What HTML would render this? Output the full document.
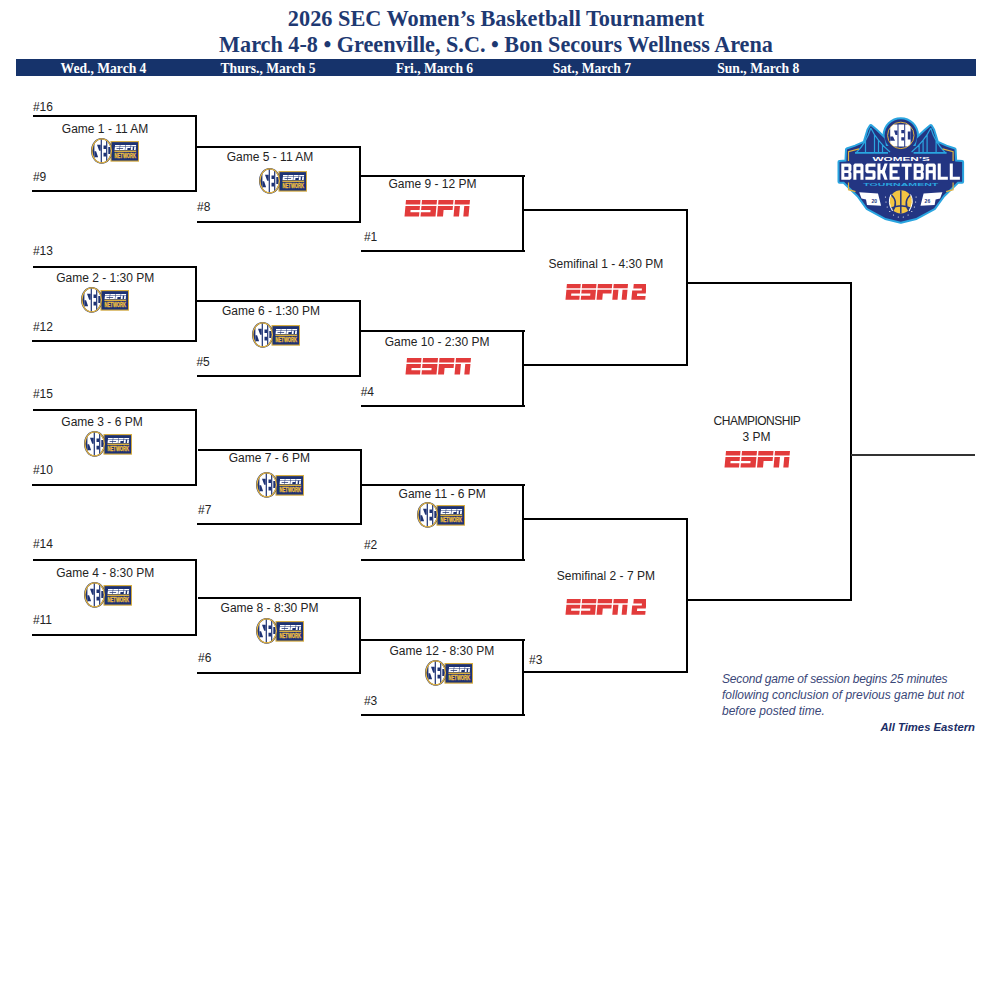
<!DOCTYPE html>
<html><head><meta charset="utf-8">
<style>
html,body{margin:0;padding:0;background:#fff;}
body{width:1008px;height:1007px;position:relative;overflow:hidden;}
.t{position:absolute;font-family:"Liberation Sans",sans-serif;font-size:12px;line-height:12px;color:#232323;white-space:nowrap;}
.c{width:300px;text-align:center;}
.ttl{position:absolute;left:0;width:992px;text-align:center;font-family:"Liberation Serif",serif;font-weight:bold;color:#1e3972;white-space:nowrap;}
.band{position:absolute;left:16px;top:59px;width:960px;height:17px;background:#16336b;}
.day{position:absolute;width:200px;text-align:center;font-family:"Liberation Serif",serif;font-weight:bold;font-size:13.6px;line-height:13.6px;color:#fff;white-space:nowrap;}
.lg{position:absolute;overflow:visible;}
.note{position:absolute;font-family:"Liberation Sans",sans-serif;font-style:italic;font-size:12px;line-height:12px;color:#3a4778;white-space:nowrap;}
</style></head><body>
<svg width="0" height="0" style="position:absolute"><defs>
<clipPath id="lgsecclip"><circle cx="70.8" cy="23.4" r="12.9"/></clipPath>
<clipPath id="secclip"><ellipse cx="10.7" cy="12.85" rx="9.2" ry="11.4"/></clipPath>
<g id="espnpath"><path transform="translate(1.5,0) skewX(-5.2)" d="M0.5 0H15V4.4H0.5Z M0.5 5.9H15V10H6V12.2H15V16.5H0.5Z
             M16.5 0H31.5V4.4H16.5Z M16.5 5.9H31.5V16.5H16.5V12.2H26V10H16.5Z
             M33 0H48V4.4H33Z M33 5.9H48V10H39V16.5H33Z
             M49.5 0H64.5V4.4H49.5Z M49.5 5.9H55V16.5H49.5Z M59.3 5.9H64.5V16.5H59.3Z"/></g>
<symbol id="secn" viewBox="0 0 48 26">
  <rect x="20" y="3.6" width="27.6" height="19.5" fill="#1d3274" stroke="#d9ad3c" stroke-width="1.1"/>
  <g transform="translate(23.4,7) scale(0.33,0.31)"><use href="#espnpath" fill="#fff"/></g>
  <rect x="23.4" y="12.6" width="21.8" height="1.3" fill="#f0bf3f"/>
  <text x="34.3" y="20.2" fill="#f0bf3f" stroke="#f0bf3f" stroke-width="0.35" font-family="Liberation Sans" font-weight="bold" font-size="6.6" text-anchor="middle" textLength="21.4" lengthAdjust="spacingAndGlyphs">NETWORK</text>
  <ellipse cx="10.7" cy="12.85" rx="10.7" ry="12.85" fill="#1d3274"/>
  <g clip-path="url(#secclip)">
    <path fill="#fff" d="M3.4 1H9.7V25H3.4Z M10.9 1H15.1V25H10.9Z M16.3 1H21V25H16.3Z"/>
    <path fill="#1d3274" d="M6 6.8H9.7V12.8H8.2Z M3.4 13.2H5.1L7.1 19.2H3.4Z M12.5 7.4h2.6v3.6h-2.6Z M12.5 14.8h2.6v3.7h-2.6Z M17.3 9h3.7v7h-3.7Z"/>
  </g>
  <ellipse cx="10.7" cy="12.85" rx="9.75" ry="12" fill="none" stroke="#e6b53c" stroke-width="1.2"/>
</symbol>

<symbol id="espn" viewBox="0 0 66 17">
  <g transform="translate(1.5,0) skewX(-5.2)" fill="#e23b3b">
    <path d="M0.5 0H15V4.4H0.5Z M0.5 5.9H15V10H6V12.2H15V16.5H0.5Z
             M16.5 0H31.5V4.4H16.5Z M16.5 5.9H31.5V16.5H16.5V12.2H26V10H16.5Z
             M33 0H48V4.4H33Z M33 5.9H48V10H39V16.5H33Z
             M49.5 0H64.5V4.4H49.5Z M49.5 5.9H55V16.5H49.5Z M59.3 5.9H64.5V16.5H59.3Z"/>
  </g>
</symbol>
<symbol id="espn2" viewBox="0 0 81 16">
  <g transform="translate(0,0) scale(0.955,0.96)">
    <g transform="translate(1.5,0) skewX(-5.2)" fill="#e23b3b">
    <path d="M0.5 0H15V4.4H0.5Z M0.5 5.9H15V10H6V12.2H15V16.5H0.5Z
             M16.5 0H31.5V4.4H16.5Z M16.5 5.9H31.5V16.5H16.5V12.2H26V10H16.5Z
             M33 0H48V4.4H33Z M33 5.9H48V10H39V16.5H33Z
             M49.5 0H64.5V4.4H49.5Z M49.5 5.9H55V16.5H49.5Z M59.3 5.9H64.5V16.5H59.3Z
             M70.5 0H84V10H75V12.4H84V16.5H69.5V6.9H79.5V4.8H70.5Z"/>
    </g>
  </g>
</symbol>
</defs>
</svg>
<div class="ttl" style="top:8.22px;font-size:22.3px;line-height:22.3px;">2026 SEC Women’s Basketball Tournament</div>
<div class="ttl" style="top:34.11px;font-size:22.2px;line-height:22.2px;">March 4-8 • Greenville, S.C. • Bon Secours Wellness Arena</div>
<div class="band"></div>
<div class="day" style="left:3.5px;top:61.61px">Wed., March 4</div>
<div class="day" style="left:168px;top:61.61px">Thurs., March 5</div>
<div class="day" style="left:334.4px;top:61.61px">Fri., March 6</div>
<div class="day" style="left:491.79999999999995px;top:61.61px">Sat., March 7</div>
<div class="day" style="left:658.3px;top:61.61px">Sun., March 8</div>
<svg style="position:absolute;left:0;top:0" width="1008" height="1007" shape-rendering="crispEdges">
<rect x="33" y="115" width="164" height="2" fill="#000"/>
<rect x="32" y="190" width="165" height="2" fill="#000"/>
<rect x="195" y="115" width="2" height="77" fill="#000"/>
<rect x="33" y="266" width="164" height="2" fill="#000"/>
<rect x="32" y="340" width="165" height="2" fill="#000"/>
<rect x="195" y="266" width="2" height="76" fill="#000"/>
<rect x="33" y="409" width="164" height="2" fill="#000"/>
<rect x="32" y="484" width="165" height="2" fill="#000"/>
<rect x="195" y="409" width="2" height="77" fill="#000"/>
<rect x="33" y="559" width="164" height="2" fill="#000"/>
<rect x="32" y="634" width="165" height="2" fill="#000"/>
<rect x="195" y="559" width="2" height="77" fill="#000"/>
<rect x="197" y="146" width="164" height="2" fill="#000"/>
<rect x="197" y="221" width="164" height="2" fill="#000"/>
<rect x="359" y="146" width="2" height="77" fill="#000"/>
<rect x="197" y="300" width="164" height="2" fill="#000"/>
<rect x="197" y="375" width="164" height="2" fill="#000"/>
<rect x="359" y="300" width="2" height="77" fill="#000"/>
<rect x="198" y="449" width="163" height="2" fill="#000"/>
<rect x="197" y="523" width="164" height="2" fill="#000"/>
<rect x="360" y="449" width="2" height="76" fill="#000"/>
<rect x="198" y="597" width="163" height="2" fill="#000"/>
<rect x="197" y="672" width="164" height="2" fill="#000"/>
<rect x="359" y="597" width="2" height="77" fill="#000"/>
<rect x="361" y="175" width="164" height="2" fill="#000"/>
<rect x="361" y="250" width="164" height="2" fill="#000"/>
<rect x="522" y="175" width="2" height="77" fill="#000"/>
<rect x="361" y="330" width="164" height="2" fill="#000"/>
<rect x="361" y="405" width="164" height="2" fill="#000"/>
<rect x="522" y="330" width="2" height="77" fill="#000"/>
<rect x="361" y="484" width="164" height="2" fill="#000"/>
<rect x="361" y="559" width="164" height="2" fill="#000"/>
<rect x="522" y="484" width="2" height="77" fill="#000"/>
<rect x="361" y="639" width="164" height="2" fill="#000"/>
<rect x="361" y="714" width="164" height="2" fill="#000"/>
<rect x="522" y="639" width="2" height="77" fill="#000"/>
<rect x="523" y="209" width="165" height="2" fill="#000"/>
<rect x="523" y="364" width="165" height="2" fill="#000"/>
<rect x="686" y="209" width="2" height="157" fill="#000"/>
<rect x="523" y="518" width="165" height="2" fill="#000"/>
<rect x="523" y="671" width="165" height="2" fill="#000"/>
<rect x="686" y="518" width="2" height="155" fill="#000"/>
<rect x="687" y="282" width="165" height="2" fill="#000"/>
<rect x="687" y="599" width="165" height="2" fill="#000"/>
<rect x="850" y="282" width="2" height="319" fill="#000"/>
<rect x="851" y="454" width="124" height="1.6" fill="#333"/>
</svg>
<div class="t" style="left:32.90px;top:101.04px;">#16</div>
<div class="t" style="left:32.90px;top:170.84px;">#9</div>
<div class="t" style="left:32.90px;top:244.94px;">#13</div>
<div class="t" style="left:32.90px;top:320.64px;">#12</div>
<div class="t" style="left:32.90px;top:387.74px;">#15</div>
<div class="t" style="left:32.90px;top:463.74px;">#10</div>
<div class="t" style="left:32.90px;top:537.74px;">#14</div>
<div class="t" style="left:32.90px;top:613.74px;">#11</div>
<div class="t" style="left:197.10px;top:200.84px;">#8</div>
<div class="t" style="left:196.40px;top:355.84px;">#5</div>
<div class="t" style="left:198.10px;top:503.74px;">#7</div>
<div class="t" style="left:198.10px;top:651.74px;">#6</div>
<div class="t" style="left:363.90px;top:230.94px;">#1</div>
<div class="t" style="left:360.70px;top:385.64px;">#4</div>
<div class="t" style="left:363.90px;top:538.84px;">#2</div>
<div class="t" style="left:363.90px;top:694.84px;">#3</div>
<div class="t" style="left:529.00px;top:653.74px;">#3</div>
<div class="t c" style="left:-44.90px;top:122.54px;">Game 1 - 11 AM</div>
<div class="t c" style="left:-44.80px;top:271.74px;">Game 2 - 1:30 PM</div>
<div class="t c" style="left:-48.00px;top:416.44px;">Game 3 - 6 PM</div>
<div class="t c" style="left:-44.80px;top:566.64px;">Game 4 - 8:30 PM</div>
<div class="t c" style="left:120.00px;top:150.64px;">Game 5 - 11 AM</div>
<div class="t c" style="left:121.00px;top:304.94px;">Game 6 - 1:30 PM</div>
<div class="t c" style="left:119.40px;top:451.64px;">Game 7 - 6 PM</div>
<div class="t c" style="left:119.60px;top:601.64px;">Game 8 - 8:30 PM</div>
<div class="t c" style="left:282.40px;top:177.74px;">Game 9 - 12 PM</div>
<div class="t c" style="left:287.10px;top:335.64px;">Game 10 - 2:30 PM</div>
<div class="t c" style="left:292.20px;top:487.74px;">Game 11 - 6 PM</div>
<div class="t c" style="left:291.90px;top:644.74px;">Game 12 - 8:30 PM</div>
<div class="t c" style="left:455.90px;top:257.74px;">Semifinal 1 - 4:30 PM</div>
<div class="t c" style="left:455.90px;top:569.64px;">Semifinal 2 - 7 PM</div>
<div class="t c" style="left:606.90px;top:415.44px;letter-spacing:-0.5px;">CHAMPIONSHIP</div>
<div class="t c" style="left:606.50px;top:430.54px;">3 PM</div>
<svg class="lg" style="left:90.8px;top:138.3px" width="48" height="26" viewBox="0 0 48 26"><use href="#secn"/></svg>
<svg class="lg" style="left:80.5px;top:286.8px" width="48" height="26" viewBox="0 0 48 26"><use href="#secn"/></svg>
<svg class="lg" style="left:84.2px;top:431.1px" width="48" height="26" viewBox="0 0 48 26"><use href="#secn"/></svg>
<svg class="lg" style="left:84.2px;top:582.3px" width="48" height="26" viewBox="0 0 48 26"><use href="#secn"/></svg>
<svg class="lg" style="left:258.8px;top:168.3px" width="48" height="26" viewBox="0 0 48 26"><use href="#secn"/></svg>
<svg class="lg" style="left:252.4px;top:322.1px" width="48" height="26" viewBox="0 0 48 26"><use href="#secn"/></svg>
<svg class="lg" style="left:256.3px;top:472.2px" width="48" height="26" viewBox="0 0 48 26"><use href="#secn"/></svg>
<svg class="lg" style="left:256.3px;top:618.1px" width="48" height="26" viewBox="0 0 48 26"><use href="#secn"/></svg>
<svg class="lg" style="left:417.3px;top:502.3px" width="48" height="26" viewBox="0 0 48 26"><use href="#secn"/></svg>
<svg class="lg" style="left:424.8px;top:660.4px" width="48" height="26" viewBox="0 0 48 26"><use href="#secn"/></svg>
<svg class="lg" style="left:403.9px;top:199.8px" width="66" height="17" viewBox="0 0 66 17"><use href="#espn"/></svg>
<svg class="lg" style="left:405.3px;top:358.0px" width="66" height="17" viewBox="0 0 66 17"><use href="#espn"/></svg>
<svg class="lg" style="left:723.8px;top:450.8px" width="66" height="17" viewBox="0 0 66 17"><use href="#espn"/></svg>
<svg class="lg" style="left:565.0px;top:283.9px" width="81" height="16" viewBox="0 0 81 16"><use href="#espn2"/></svg>
<svg class="lg" style="left:565.3px;top:599.0px" width="81" height="16" viewBox="0 0 81 16"><use href="#espn2"/></svg>
<svg style="position:absolute;left:830px;top:112px" width="140" height="118" viewBox="0 0 140 118">
  <defs>
    <path id="lgbody" d="M9.5 50 L16.4 49.5 L17 37.5 L25.5 34.6 L34.6 30.5 L38.4 18 L40.8 14 L45.8 18.2 L54.5 26.5 L56 34 L85.6 34 L87.1 26.5 L95.8 18.2 L100.8 14 L103.2 18 L107 30.5 L116.1 34.6 L124.6 37.5 L125.2 49.5 L132.1 50 L132.1 69.7 L127.6 69.7 L113.1 83.8 L104.1 96.3 L86.1 106 L70.8 109.8 L55.5 106 L37.5 96.3 L28.5 83.8 L14 69.7 L9.5 69.7 Z"/>
  </defs>
  <use href="#lgbody" fill="none" stroke="#2aa5e0" stroke-width="4" stroke-linejoin="round"/>
  <circle cx="70.8" cy="23.4" r="16.2" fill="none" stroke="#2aa5e0" stroke-width="4"/>
  <use href="#lgbody" fill="#233582"/>
  <circle cx="70.8" cy="23.4" r="16.2" fill="#233582"/>
  <path d="M25 40.8 H58 M83.6 40.8 H116.6" stroke="#2aa5e0" stroke-width="1.8" fill="none"/>
  <path d="M40.8 16 C38 26 32 35 26 41 M40.8 16 C46 27 53 34 60 40 M44.5 23 V41 M48.5 28.5 V41 M52.5 32.5 V41 M35.5 29 V41
           M100.8 16 C103.6 26 109.6 35 115.6 41 M100.8 16 C95.6 27 88.6 34 81.6 40 M97.1 23 V41 M93.1 28.5 V41 M89.1 32.5 V41 M106.1 29 V41" stroke="#2aa5e0" stroke-width="1.2" fill="none"/>
  <circle cx="70.8" cy="23.4" r="13.2" fill="#233582" stroke="#e0b13e" stroke-width="1"/>
  <g clip-path="url(#lgsecclip)">
    <path fill="#fff" d="M60.2 12.5H67.5V34.5H60.2Z M68.5 12.5H74.2V34.5H68.5Z M75.2 12.5H80.6V34.5H75.2Z"/>
    <path fill="#233582" d="M64 18.5L67.5 18.5V23H65.5Z M60.2 24.5h2.8l2 4.2H60.2Z M71.3 18h2.9v3.2h-2.9Z M71.3 25.2h2.9v3.2h-2.9Z M77.8 19.5h2.8v8h-2.8Z"/>
  </g>
  <path d="M29 36.8 L18.5 39.6 L18.5 49 M18.5 70.6 L18.5 77.7 L25.5 79.6 M112.6 36.8 L123.1 39.6 L123.1 49 M123.1 70.6 L123.1 77.7 L116.1 79.6" stroke="#e0b13e" stroke-width="1.2" fill="none"/>
  <text x="71.2" y="48.6" fill="#fff" font-family="Liberation Sans" font-weight="bold" font-size="6" text-anchor="middle" textLength="57.4" lengthAdjust="spacingAndGlyphs">WOMEN’S</text>
  <g transform="translate(11.3,51.6) scale(1.0128,1.01)" fill="#fff" fill-rule="evenodd"><path transform="translate(0.00,0)" d="M0 0H8.6L10 1.4V6.6L9 8L10 9.4V14.6L8.6 16H0Z M3 3V6.6H7V3Z M3 9.4V13H7V9.4Z"/><path transform="translate(11.90,0)" d="M1.4 0H8.6L10 1.4V16H7V9.5H3V16H0V1.4Z M3 3V6.5H7V3Z"/><path transform="translate(23.80,0)" d="M1.4 0H10V3H3V6.5H8.6L10 7.9V14.6L8.6 16H0V13H7V9.5H1.4L0 8.1V1.4Z"/><path transform="translate(35.70,0)" d="M0 0H3V6.3H4.5L7 0H10L7.4 8L10 16H7L4.5 9.7H3V16H0Z"/><path transform="translate(47.60,0)" d="M0 0H10V3H3V6.5H8V9.5H3V13H10V16H0Z"/><path transform="translate(59.50,0)" d="M0 0H10V3H6.5V16H3.5V3H0Z"/><path transform="translate(71.40,0)" d="M0 0H8.6L10 1.4V6.6L9 8L10 9.4V14.6L8.6 16H0Z M3 3V6.6H7V3Z M3 9.4V13H7V9.4Z"/><path transform="translate(83.30,0)" d="M1.4 0H8.6L10 1.4V16H7V9.5H3V16H0V1.4Z M3 3V6.5H7V3Z"/><path transform="translate(95.20,0)" d="M0 0H3V13H10V16H0Z"/><path transform="translate(107.10,0)" d="M0 0H3V13H10V16H0Z"/></g>
  <text x="70.8" y="74.4" fill="#2aa5e0" font-family="Liberation Sans" font-weight="bold" font-size="4.4" text-anchor="middle" textLength="75" lengthAdjust="spacingAndGlyphs">TOURNAMENT</text>
  <path fill="#fff" d="M29.2 80.2 L48 81.6 L51.1 93.8 L37 93 L36 87.5 L31.5 86.5 Z"/>
  <path fill="#fff" d="M112.4 80.2 L93.6 81.6 L90.5 93.8 L104.6 93 L105.6 87.5 L110.1 86.5 Z"/>
  <text x="44.2" y="90.5" fill="#233582" font-family="Liberation Sans" font-weight="bold" font-size="5" text-anchor="middle">20</text>
  <text x="97.4" y="90.5" fill="#233582" font-family="Liberation Sans" font-weight="bold" font-size="5" text-anchor="middle">26</text>
  <ellipse cx="70.8" cy="89.9" rx="11.6" ry="11.6" fill="#f2c443"/>
  <path d="M70.8 78.3 V101.5 M61 82.5 Q69 90 62.5 99 M80.6 82.5 Q72.6 90 79.1 99 M60.5 96.5 Q70.8 91 81.1 96.5" stroke="#233582" stroke-width="1.5" fill="none"/>
  <path d="M61 82.5 Q57 90 62.5 99 M80.6 82.5 Q84.6 90 79.1 99" stroke="#fff" stroke-width="1" fill="none"/>
  <g fill="#fff">
    <circle cx="55.5" cy="85" r="0.6"/><circle cx="56" cy="90" r="0.6"/><circle cx="57.2" cy="95" r="0.6"/><circle cx="59.8" cy="99.5" r="0.6"/><circle cx="63.5" cy="103" r="0.6"/><circle cx="68.3" cy="105" r="0.6"/>
    <circle cx="86.1" cy="85" r="0.6"/><circle cx="85.6" cy="90" r="0.6"/><circle cx="84.4" cy="95" r="0.6"/><circle cx="81.8" cy="99.5" r="0.6"/><circle cx="78.1" cy="103" r="0.6"/><circle cx="73.3" cy="105" r="0.6"/>
  </g>
</svg>

<div class="note" style="left:722px;top:673.04px;letter-spacing:-0.17px">Second game of session begins 25 minutes</div>
<div class="note" style="left:722px;top:689.14px">following conclusion of previous game but not</div>
<div class="note" style="left:722px;top:705.24px">before posted time.</div>
<div class="note" style="left:875px;width:100px;text-align:right;top:721.83px;font-weight:bold;font-size:11.3px;line-height:11.3px;color:#1b2d66;">All Times Eastern</div>
</body></html>
